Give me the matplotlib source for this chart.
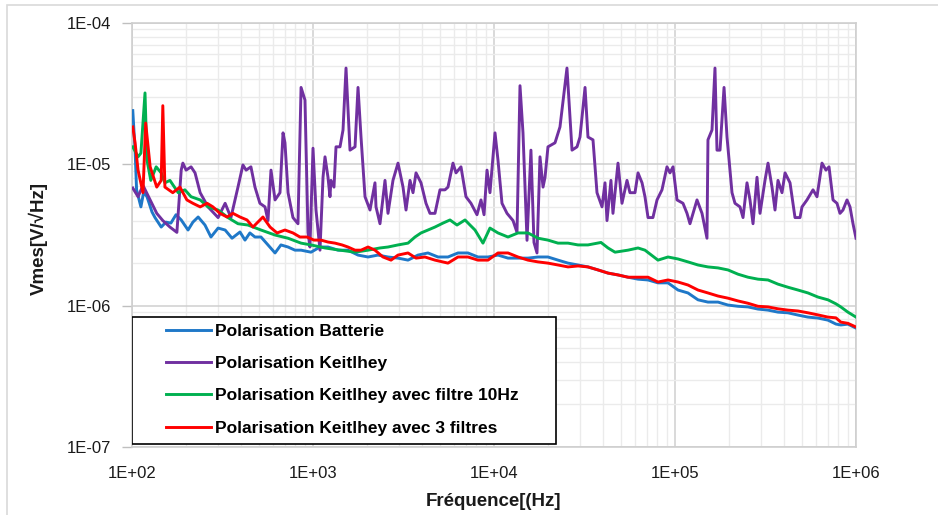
import matplotlib
matplotlib.use("Agg")
import matplotlib.pyplot as plt
from matplotlib.patches import Rectangle
from matplotlib.ticker import LogLocator, FixedLocator

plt.rcParams['font.family'] = ['Liberation Sans', 'DejaVu Sans']

series_names = ["Polarisation Batterie", "Polarisation Keitlhey",
                "Polarisation Keitlhey avec filtre 10Hz", "Polarisation Keitlhey avec 3 filtres"]
series_colors = ["#1F78C8", "#7030A0", "#00B050", "#FF0000"]

# Polarisation Keitlhey (purple)
f_keit = [101, 108, 115, 126, 137, 148, 162, 177, 187, 191, 199, 212, 223, 238, 263, 299, 327, 352,
          385, 410, 427, 454, 478, 509, 543, 564, 586, 617, 657, 683, 700, 728, 775, 826, 859, 903,
          938, 962, 1000, 1039, 1093, 1136, 1165, 1210, 1241, 1257, 1306, 1340, 1410, 1465, 1522,
          1601, 1707, 1773, 1842, 1938, 2065, 2200, 2229, 2345, 2499, 2596, 2766, 2949, 3143, 3265,
          3435, 3569, 3708, 3951, 4210, 4429, 4720, 5030, 5360, 5569, 5935, 6166, 6570, 7000, 7460,
          8055, 8475, 8810, 9150, 9500, 10130, 10520, 11070, 11800, 12740, 13400, 13920, 14460,
          15220, 16000, 16630, 17280, 17950, 18660, 19140, 19870, 21730, 23150, 25300, 26980,
          28750, 29860, 31840, 33050, 35230, 37070, 39520, 41050, 42100, 44270, 45420, 48420,
          50940, 54300, 56390, 60110, 62470, 65740, 68250, 70960, 75510, 79560, 84740, 90300,
          93800, 97500, 102600, 110700, 116500, 121000, 132300, 141000, 150200, 152100, 160100,
          166300, 170600, 177300, 186600, 193800, 206500, 214500, 228600, 237600, 249900, 259600,
          269800, 283800, 294900, 314200, 326500, 343500, 356900, 370700, 390100, 405500, 432000,
          460300, 490500, 503100, 536100, 578800, 608800, 648800, 682500, 709500, 746400, 785200,
          815800, 847400, 891800, 926500, 962500, 1000000]
v_keit = [6.8e-6, 5.9e-6, 7.1e-6, 5.6e-6, 4.5e-6, 4.0e-6, 3.6e-6, 3.3e-6, 9.1e-6, 1.02e-5, 9.1e-6,
          9.6e-6, 8.7e-6, 6.3e-6, 5.0e-6, 4.2e-6, 5.3e-6, 4.2e-6, 6.9e-6, 9.9e-6, 9.1e-6, 9.6e-6,
          6.9e-6, 5.3e-6, 5.0e-6, 4.0e-6, 9.1e-6, 5.6e-6, 6.3e-6, 1.67e-5, 1.42e-5, 6.3e-6, 4.2e-6,
          3.8e-6, 3.5e-5, 2.85e-5, 3.3e-6, 2.6e-6, 1.3e-5, 4.75e-6, 2.47e-6, 8.1e-6, 1.13e-5, 8.1e-6,
          5.9e-6, 7.7e-6, 6.9e-6, 1.33e-5, 1.33e-5, 1.75e-5, 4.8e-5, 1.26e-5, 1.33e-5, 3.5e-5,
          1.56e-5, 5.9e-6, 4.75e-6, 7.4e-6, 5.0e-6, 3.8e-6, 7.7e-6, 4.5e-6, 7.7e-6, 1.02e-5, 6.9e-6,
          4.75e-6, 7.7e-6, 6.3e-6, 8.7e-6, 7.4e-6, 5.3e-6, 4.5e-6, 4.5e-6, 6.6e-6, 6.6e-6, 6.9e-6,
          1.02e-5, 8.7e-6, 9.6e-6, 5.9e-6, 5.3e-6, 4.4e-6, 5.6e-6, 4.4e-6, 9.1e-6, 6.3e-6, 1.67e-5,
          1.07e-5, 5.3e-6, 4.5e-6, 4.0e-6, 3.3e-6, 3.6e-5, 1.67e-5, 2.9e-6, 1.26e-5, 2.8e-6, 2.36e-6,
          1.13e-5, 6.9e-6, 8.1e-6, 1.33e-5, 1.42e-5, 1.84e-5, 4.8e-5, 1.26e-5, 1.33e-5, 1.56e-5,
          3.5e-5, 1.56e-5, 1.49e-5, 6.3e-6, 5.0e-6, 7.4e-6, 4.0e-6, 7.7e-6, 4.5e-6, 1.02e-5, 5.3e-6,
          7.7e-6, 6.3e-6, 6.3e-6, 8.7e-6, 7.4e-6, 5.9e-6, 4.2e-6, 4.2e-6, 5.6e-6, 6.6e-6, 9.6e-6,
          8.7e-6, 9.6e-6, 5.6e-6, 5.3e-6, 4.5e-6, 3.8e-6, 5.6e-6, 4.5e-6, 3.0e-6, 1.49e-5, 1.75e-5,
          4.8e-5, 1.26e-5, 1.26e-5, 3.5e-5, 1.56e-5, 6.3e-6, 5.3e-6, 5.0e-6, 4.2e-6, 7.4e-6, 5.6e-6,
          3.8e-6, 8.1e-6, 4.5e-6, 7.7e-6, 1.02e-5, 6.9e-6, 4.75e-6, 7.7e-6, 6.3e-6, 8.7e-6, 7.4e-6,
          4.2e-6, 4.2e-6, 5.0e-6, 5.6e-6, 6.6e-6, 5.9e-6, 1.02e-5, 9.1e-6, 9.6e-6, 5.6e-6, 5.3e-6,
          4.5e-6, 4.75e-6, 5.6e-6, 5.0e-6, 3.8e-6, 3.0e-6]

# Polarisation Keitlhey avec filtre 10Hz (green)
f_filt10 = [101, 108, 112, 118, 121, 127, 136, 145, 152, 162, 180, 196, 212, 238, 263, 299, 339,
            385, 437, 516, 617, 728, 859, 975, 1165, 1410, 1707, 2014, 2345, 2596, 2949, 3350,
            3660, 3951, 4318, 4720, 5227, 5712, 6247, 6918, 7370, 7852, 8690, 9500, 10520, 11950,
            13570, 15410, 17510, 19870, 22570, 25640, 29110, 33050, 39000, 42660, 46620, 55000,
            62470, 68250, 80540, 91480, 103900, 117950, 134000, 152100, 172800, 196200, 222900,
            253000, 287400, 326500, 370700, 421000, 478000, 543000, 617000, 700000, 775000,
            824000, 902000, 1000000]
v_filt10 = [1.33e-5, 1.13e-5, 1.2e-5, 3.2e-5, 1.07e-5, 7.7e-6, 9.6e-6, 8.7e-6, 7.4e-6, 7.7e-6,
            6.3e-6, 6.6e-6, 5.9e-6, 5.6e-6, 5.0e-6, 4.75e-6, 4.2e-6, 3.8e-6, 3.72e-6, 3.43e-6,
            3.16e-6, 3.0e-6, 2.77e-6, 2.69e-6, 2.56e-6, 2.47e-6, 2.39e-6, 2.47e-6, 2.56e-6, 2.6e-6,
            2.69e-6, 2.77e-6, 3.06e-6, 3.27e-6, 3.43e-6, 3.6e-6, 3.84e-6, 4.04e-6, 3.72e-6, 4.04e-6,
            3.72e-6, 3.43e-6, 2.77e-6, 3.54e-6, 3.27e-6, 3.06e-6, 3.27e-6, 3.27e-6, 3.0e-6, 2.91e-6,
            2.77e-6, 2.77e-6, 2.69e-6, 2.69e-6, 2.8e-6, 2.56e-6, 2.39e-6, 2.47e-6, 2.56e-6, 2.47e-6,
            2.1e-6, 2.21e-6, 2.14e-6, 2.04e-6, 1.94e-6, 1.88e-6, 1.85e-6, 1.79e-6, 1.67e-6, 1.59e-6,
            1.54e-6, 1.52e-6, 1.42e-6, 1.35e-6, 1.29e-6, 1.23e-6, 1.15e-6, 1.10e-6, 1.03e-6, 9.8e-7,
            9.0e-7, 8.3e-7]

# Polarisation Batterie (blue)
f_batt = [101, 104, 106, 112, 116, 121, 129, 134, 145, 154, 164, 175, 187, 204, 217, 232, 253, 273,
          299, 327, 357, 395, 421, 448, 478, 516, 564, 617, 665, 728, 795, 859, 975, 1093, 1210,
          1375, 1560, 1773, 2014, 2286, 2596, 2949, 3350, 3802, 4318, 4905, 5569, 6325, 7180, 8156,
          9265, 10520, 11950, 13570, 15410, 17510, 19870, 22570, 25640, 29110, 33050, 37550, 42660,
          48420, 55000, 62470, 70960, 80540, 91480, 103900, 117950, 134000, 152100, 172800, 196200,
          222900, 253000, 287400, 326500, 370700, 421000, 478000, 543000, 617000, 700000, 775000,
          824000, 902000, 1000000]
v_batt = [2.4e-5, 1.26e-5, 6.6e-6, 5.0e-6, 6.37e-6, 5.9e-6, 4.6e-6, 4.2e-6, 3.6e-6, 3.9e-6, 3.84e-6,
          4.4e-6, 4.04e-6, 3.43e-6, 3.9e-6, 4.24e-6, 3.72e-6, 3.06e-6, 3.54e-6, 3.43e-6, 3.0e-6,
          3.32e-6, 2.91e-6, 3.27e-6, 3.06e-6, 3.06e-6, 2.69e-6, 2.36e-6, 2.69e-6, 2.6e-6, 2.47e-6,
          2.47e-6, 2.39e-6, 2.6e-6, 2.6e-6, 2.47e-6, 2.47e-6, 2.28e-6, 2.21e-6, 2.28e-6, 2.21e-6,
          2.17e-6, 2.1e-6, 2.28e-6, 2.36e-6, 2.21e-6, 2.21e-6, 2.36e-6, 2.36e-6, 2.21e-6, 2.21e-6,
          2.28e-6, 2.17e-6, 2.17e-6, 2.17e-6, 2.21e-6, 2.21e-6, 2.1e-6, 2.0e-6, 1.94e-6, 1.88e-6,
          1.79e-6, 1.7e-6, 1.65e-6, 1.59e-6, 1.54e-6, 1.52e-6, 1.45e-6, 1.45e-6, 1.29e-6, 1.23e-6,
          1.1e-6, 1.06e-6, 1.06e-6, 1.01e-6, 9.9e-7, 9.8e-7, 9.46e-7, 9.3e-7, 9.0e-7, 8.9e-7,
          8.58e-7, 8.3e-7, 8.17e-7, 7.9e-7, 7.41e-7, 7.3e-7, 7.4e-7, 6.94e-7]

# Polarisation Keitlhey avec 3 filtres (red)
f_3filt = [101, 104, 108, 115, 119, 126, 137, 145, 148, 152, 168, 184, 201, 217, 238, 260, 280, 306,
           335, 361, 395, 432, 466, 529, 579, 633, 700, 775, 847, 926, 1013, 1107, 1210, 1323, 1446,
           1560, 1707, 1842, 2014, 2200, 2436, 2698, 2949, 3350, 3708, 4156, 4720, 5569, 6325, 7180,
           8156, 9265, 10520, 11950, 13570, 15410, 17510, 19870, 22570, 25640, 29110, 33050, 37550,
           42660, 48420, 55000, 62470, 70960, 80540, 91480, 103900, 117950, 134000, 152100, 172800,
           196200, 222900, 253000, 287400, 326500, 370700, 421000, 478000, 543000, 617000, 700000,
           775000, 824000, 902000, 1000000]
v_3filt = [1.84e-5, 1.42e-5, 9.1e-6, 6.3e-6, 1.96e-5, 9.6e-6, 6.9e-6, 7.7e-6, 2.6e-5, 6.9e-6, 6.3e-6,
           6.9e-6, 5.6e-6, 5.3e-6, 5.0e-6, 5.3e-6, 5.0e-6, 4.5e-6, 4.24e-6, 4.5e-6, 4.24e-6, 4.04e-6,
           3.6e-6, 4.24e-6, 3.6e-6, 3.27e-6, 3.43e-6, 3.27e-6, 3.06e-6, 3.06e-6, 2.91e-6, 2.91e-6,
           2.82e-6, 2.77e-6, 2.69e-6, 2.6e-6, 2.47e-6, 2.47e-6, 2.6e-6, 2.47e-6, 2.21e-6, 2.1e-6,
           2.28e-6, 2.36e-6, 2.17e-6, 2.21e-6, 2.1e-6, 2.0e-6, 2.21e-6, 2.21e-6, 2.1e-6, 2.1e-6,
           2.36e-6, 2.36e-6, 2.21e-6, 2.1e-6, 2.04e-6, 2.0e-6, 1.94e-6, 1.88e-6, 1.91e-6, 1.88e-6,
           1.79e-6, 1.7e-6, 1.65e-6, 1.59e-6, 1.59e-6, 1.59e-6, 1.47e-6, 1.52e-6, 1.47e-6, 1.4e-6,
           1.29e-6, 1.23e-6, 1.17e-6, 1.13e-6, 1.08e-6, 1.04e-6, 9.9e-7, 9.8e-7, 9.5e-7, 9.3e-7,
           9.17e-7, 8.9e-7, 8.6e-7, 8.3e-7, 8.2e-7, 7.65e-7, 7.5e-7, 7.06e-7]

x_ticks = [1e2, 1e3, 1e4, 1e5, 1e6]
x_tick_labels = ["1E+02", "1E+03", "1E+04", "1E+05", "1E+06"]
y_ticks = [1e-7, 1e-6, 1e-5, 1e-4]
y_tick_labels = ["1E-07", "1E-06", "1E-05", "1E-04"]

fig = plt.figure(figsize=(9.38, 5.15), dpi=100)
fig.patches.append(Rectangle((7 / 938, -0.01), 1.0, 1 - 5 / 515 + 0.01, transform=fig.transFigure,
                             fill=False, edgecolor="#D9D9D9", linewidth=1.2))
ax = fig.add_axes([132 / 938, 1 - 447 / 515, 724 / 938, 424 / 515])

data = [(f_batt, v_batt), (f_keit, v_keit), (f_filt10, v_filt10), (f_3filt, v_3filt)]
order = [1, 2, 0, 3]
lines = {}
for i in order:
    f, v = data[i]
    ln, = ax.plot(f, v, color=series_colors[i], linewidth=2.1, label=series_names[i],
                  solid_joinstyle="round", zorder=3 + i * 0.1)
    lines[i] = ln

ax.set_xscale("log")
ax.set_yscale("log")
ax.set_xlim(1e2, 1e6)
ax.set_ylim(1e-7, 1e-4)
ax.xaxis.set_major_locator(FixedLocator(x_ticks))
ax.set_xticklabels(x_tick_labels)
ax.yaxis.set_major_locator(FixedLocator(y_ticks))
ax.set_yticklabels(y_tick_labels)
ax.xaxis.set_minor_locator(LogLocator(base=10, subs=range(2, 10), numticks=20))
ax.yaxis.set_minor_locator(LogLocator(base=10, subs=range(2, 10), numticks=20))
ax.tick_params(axis="x", which="major", length=0, pad=14, labelsize=12, labelcolor="#1A1A1A")
ax.tick_params(axis="y", which="major", length=7, width=1, pad=8, labelsize=12,
               color="#BFBFBF", labelcolor="#1A1A1A")
ax.tick_params(which="minor", length=0)
ax.grid(which="major", color="#CFCFCF", linewidth=1.1)
ax.grid(which="minor", color="#EBEBEB", linewidth=1.0)
ax.set_axisbelow(True)
for s in ax.spines.values():
    s.set_color("#CFCFCF")
    s.set_linewidth(1.2)

# legend box
ax.add_patch(Rectangle((0.0, 0.007), (556 - 132) / 724, (444 - 317) / 424, transform=ax.transAxes,
                       facecolor="white", edgecolor="black", linewidth=1.2, zorder=5))
handles = [lines[i] for i in range(4)]
leg = ax.legend(handles, series_names, loc="upper left",
                bbox_to_anchor=((166 - 132) / 724, (447 - 324) / 424),
                frameon=False, borderpad=0, borderaxespad=0, handlelength=2.6, handletextpad=0.25,
                labelspacing=0.98, prop={"family": ["Liberation Sans", "DejaVu Sans"],
                                         "weight": "bold", "size": 12.5})
leg.set_zorder(6)

fig.text(38 / 938, 1 - 238 / 515, "Vmes[V/√Hz]", rotation=90, ha="center", va="center",
         fontsize=13.5, fontweight="bold", color="#1A1A1A")
fig.text(493 / 938, 1 - 502 / 515, "Fréquence[(Hz]", ha="center", va="center",
         fontsize=13.5, fontweight="bold", color="#1A1A1A")

fig.savefig("out.png", dpi=100)
